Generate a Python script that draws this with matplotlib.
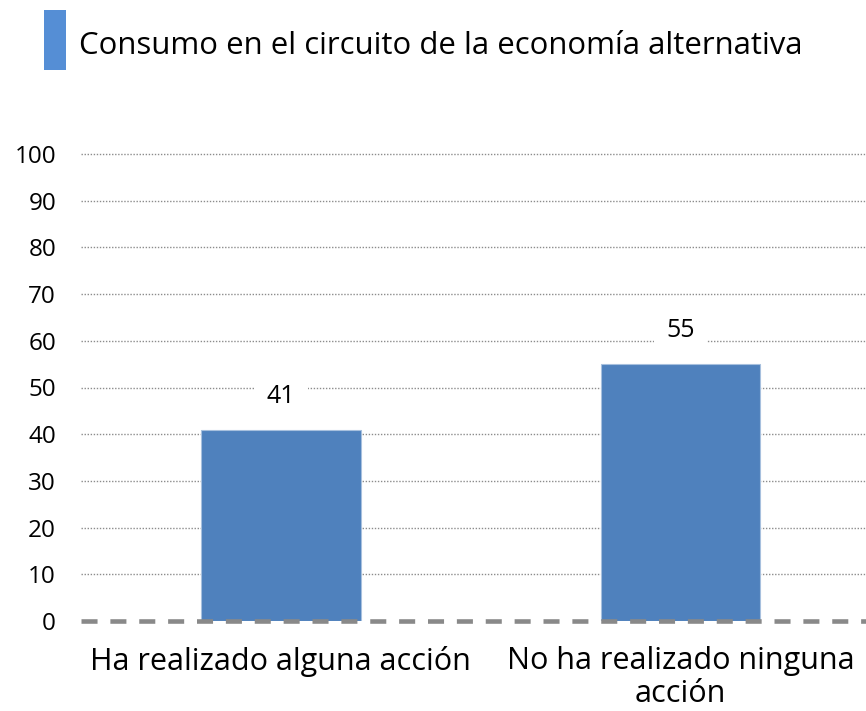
import matplotlib
matplotlib.use("Agg")
import matplotlib.pyplot as plt
from matplotlib.patches import Rectangle

categories = ["Ha realizado alguna acción", "No ha realizado ninguna\nacción"]
values = [41, 55]
series_name = "Consumo en el circuito de la economía alternativa"
yticks = [0, 10, 20, 30, 40, 50, 60, 70, 80, 90, 100]

W, H = 866, 711
fig = plt.figure(figsize=(W / 100, H / 100), dpi=100)
plt.rcParams['font.family'] = ['Open Sans', 'DejaVu Sans']

ax = fig.add_axes([81 / W, (H - 621) / H, (W - 81) / W, (621 - 154) / H])
bar_color = "#4F81BD"
x = list(range(len(categories)))
ax.bar(x, values, width=0.4, color=bar_color, edgecolor="#A7C0DE", linewidth=0.8, zorder=2)
ax.set_xlim(-0.5, 1.464)
ax.set_ylim(0, 100)
ax.set_yticks(yticks)
ax.set_yticklabels([str(t) for t in yticks], fontsize=17.5)
ax.set_xticks(x)
ax.set_xticklabels(categories, fontsize=22, linespacing=1.15)
ax.tick_params(axis='both', length=0)
ax.tick_params(axis='y', pad=18)
ax.tick_params(axis='x', pad=18)
for s in ax.spines.values():
    s.set_visible(False)
for t in yticks[1:]:
    ax.axhline(t, color="#8C8C8C", linestyle=(0, (1, 1.2)), linewidth=1.0, zorder=1, clip_on=False)
ax.axhline(0, color="#898989", linestyle=(0, (3.5, 2.8)), linewidth=3.3, zorder=3, clip_on=False)

for xi, v in zip(x, values):
    ax.annotate(str(v), (xi, v), xytext=(0, 24), textcoords="offset points",
                ha="center", va="center", fontsize=18, zorder=4,
                bbox=dict(boxstyle="square,pad=0.5", fc="white", ec="none"))

# legend
fig.patches.append(Rectangle((44 / W, 1 - 70 / H), 22 / W, 60 / H, transform=fig.transFigure,
                             facecolor="#558ED5", edgecolor="none"))
fig.text(79 / W, 1 - 46 / H, series_name, fontsize=22.4, va="center", ha="left", color="black")

fig.savefig("out.png", dpi=100)
